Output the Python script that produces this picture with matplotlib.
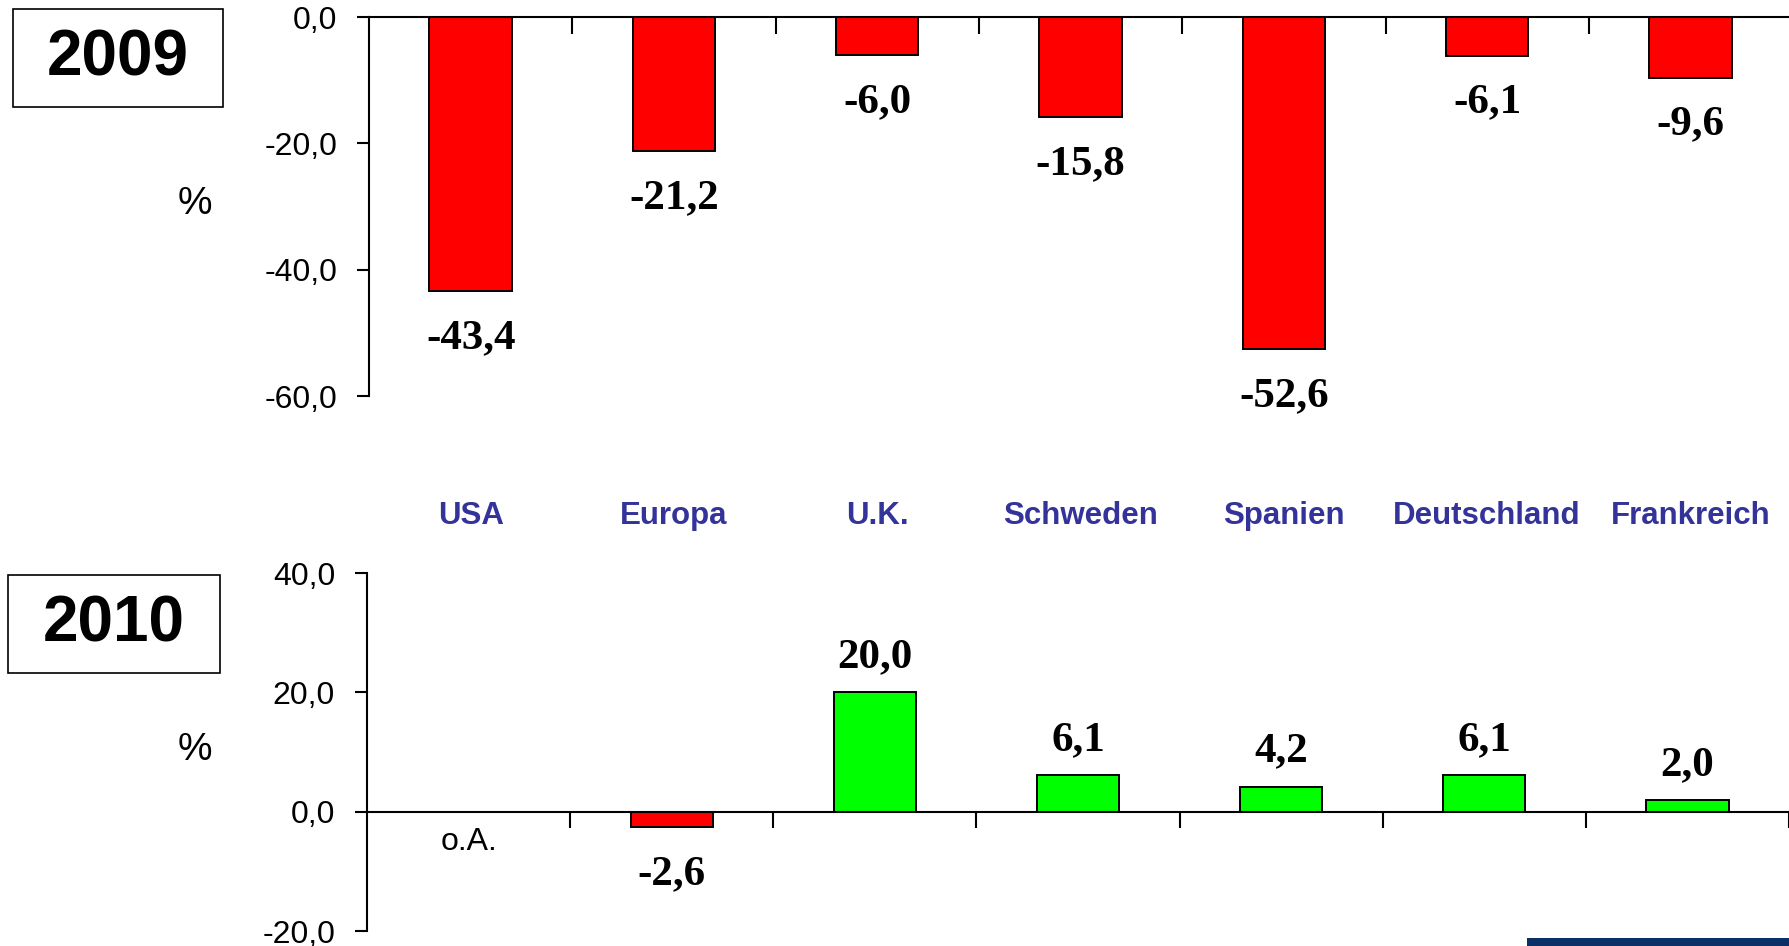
import numpy as np
import matplotlib
matplotlib.use("Agg")
import matplotlib.pyplot as plt
import matplotlib.transforms as mtransforms
from matplotlib.patches import Rectangle
from matplotlib.ticker import FuncFormatter

categories = ["USA", "Europa", "U.K.", "Schweden", "Spanien", "Deutschland", "Frankreich"]
values_2009 = [-43.4, -21.2, -6.0, -15.8, -52.6, -6.1, -9.6]
values_2010 = [np.nan, -2.6, 20.0, 6.1, 4.2, 6.1, 2.0]
ticks_2009 = [0, -20, -40, -60]
ticks_2010 = [-20, 0, 20, 40]

W, H = 1789, 946
fig = plt.figure(figsize=(W / 100, H / 100), dpi=100)

RED = "#FF0000"
GREEN = "#00FF00"
CAT_COL = "#333399"
cat_px = 203.3

fmt = FuncFormatter(lambda v, p: f"{v:.1f}".replace(".", ","))
x = np.arange(len(categories)) + 0.5
bw = 0.405


def fx(px):
    return px / W


def fy(py):
    return 1 - py / H


def lab(v):
    return f"{v:.1f}".replace(".", ",")


# ---------- 2009 ----------
l1, t1, b1 = 369, 17, 396
ax1 = fig.add_axes([fx(l1), fy(b1), fx(W - l1), (b1 - t1) / H])
ax1.set_ylim(-60, 0)
ax1.set_xlim(0, (W - l1) / cat_px)
cols = [RED if v < 0 else GREEN for v in values_2009]
ax1.bar(x, values_2009, width=bw, color=cols, edgecolor="black", linewidth=1.4, zorder=2)
for xi, v in zip(x, values_2009):
    ax1.annotate(lab(v), (xi, v), xytext=(0, -41), textcoords="offset points",
                 ha="center", va="baseline", fontsize=31, fontweight="bold",
                 family="Liberation Serif", annotation_clip=False)
for s in ["bottom", "right"]:
    ax1.spines[s].set_visible(False)
for s in ["top", "left"]:
    ax1.spines[s].set_linewidth(1.5)
ax1.xaxis.set_ticks_position("top")
ax1.set_xticks(np.arange(1, 7))
ax1.tick_params(axis="x", direction="in", length=12, width=1.5, labeltop=False, labelbottom=False)
ax1.set_yticks(ticks_2009)
ax1.yaxis.set_major_formatter(fmt)
ax1.tick_params(axis="y", direction="out", length=9, width=1.5, pad=14, labelsize=23)
for t in ax1.get_yticklabels():
    t.set_family("Liberation Sans")
ax1.patch.set_visible(False)

# category labels
blend = mtransforms.blended_transform_factory(ax1.transData, fig.transFigure)
for xi, c in zip(x, categories):
    ax1.text(xi, fy(516), c, transform=blend,
             ha="center", va="center", fontsize=22.5, fontweight="bold",
             color=CAT_COL, family="Liberation Sans")

# ---------- 2010 ----------
l2, t2, b2 = 367, 573, 931
ax2 = fig.add_axes([fx(l2), fy(b2), fx(W - l2), (b2 - t2) / H])
ax2.set_ylim(-20, 40)
ax2.set_xlim(0, (W - l2) / cat_px)
cols2 = [RED if v < 0 else GREEN for v in values_2010]
ax2.bar(x, values_2010, width=bw, color=cols2, edgecolor="black", linewidth=1.4, zorder=2)
for xi, v in zip(x, values_2010):
    if np.isnan(v):
        ax2.annotate("o.A.", (xi, 0), xytext=(0, -22), textcoords="offset points",
                     ha="center", va="center", fontsize=23, family="Liberation Sans")
        continue
    off = -41 if v < 0 else 18
    ax2.annotate(lab(v), (xi, v), xytext=(0, off), textcoords="offset points",
                 ha="center", va="baseline", fontsize=31, fontweight="bold",
                 family="Liberation Serif", annotation_clip=False)
for s in ["top", "right"]:
    ax2.spines[s].set_visible(False)
ax2.spines["bottom"].set_position(("data", 0))
for s in ["bottom", "left"]:
    ax2.spines[s].set_linewidth(1.5)
ax2.set_xticks(np.arange(1, 8))
ax2.tick_params(axis="x", direction="out", length=11.5, width=1.5, labelbottom=False)
ax2.set_yticks(ticks_2010)
ax2.yaxis.set_major_formatter(fmt)
ax2.tick_params(axis="y", direction="out", length=9, width=1.5, pad=14, labelsize=23)
for t in ax2.get_yticklabels():
    t.set_family("Liberation Sans")
ax2.patch.set_visible(False)

# ---------- % labels ----------
fig.text(fx(195), fy(204), "%", ha="center", va="center", fontsize=28, family="Liberation Sans")
fig.text(fx(195), fy(750), "%", ha="center", va="center", fontsize=28, family="Liberation Sans")

# ---------- year boxes ----------
for (x0, y0, x1, y1, txt) in [(13, 9, 223, 107, "2009"), (8, 575, 220, 673, "2010")]:
    fig.patches.append(Rectangle((fx(x0), fy(y1)), fx(x1 - x0), (y1 - y0) / H,
                                 transform=fig.transFigure, fill=False,
                                 edgecolor="black", linewidth=1.2))
    fig.text(fx((x0 + x1) / 2), fy((y0 + y1) / 2), txt, ha="center", va="center",
             fontsize=46, fontweight="bold", family="Liberation Sans")

# ---------- blue bar bottom right ----------
fig.patches.append(Rectangle((fx(1527), 0), fx(W - 1527), 8 / H,
                             transform=fig.transFigure, color="#0b2f67", linewidth=0))

fig.savefig("out.png", dpi=100)
